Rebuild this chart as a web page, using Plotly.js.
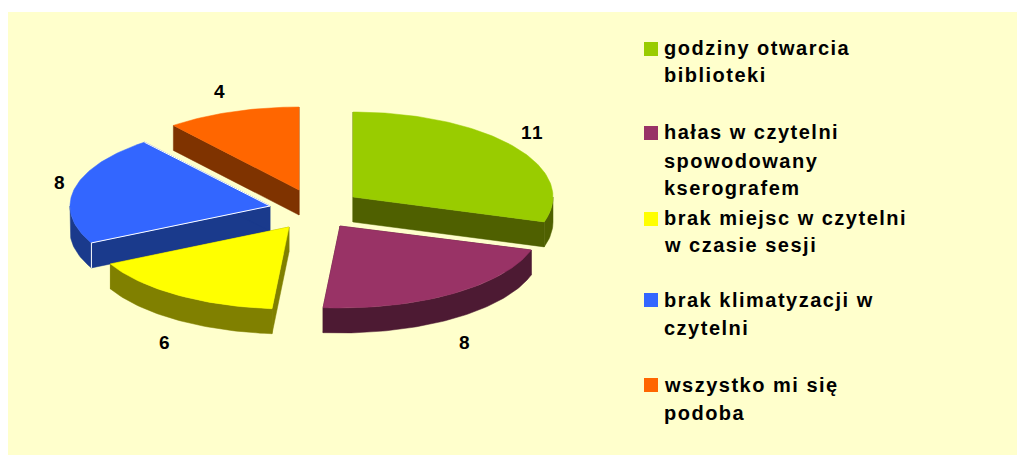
<!DOCTYPE html>
<html><head><meta charset="utf-8">
<script src="https://cdn.plot.ly/plotly-3.0.1.min.js"></script>
<style>html,body{margin:0;padding:0;background:#fff}#c{width:1017px;height:455px}
.annotation-text{letter-spacing:1.5px}</style>
</head><body><div id="c"></div>
<script>
const categories = ["godziny otwarcia<br>biblioteki","hałas w czytelni<br>spowodowany<br>kserografem","brak miejsc w czytelni<br>w czasie sesji","brak klimatyzacji w<br>czytelni","wszystko mi się<br>podoba"];
const values = [11,8,6,8,4];
const topColors = ["#99cc00","#993366","#ffff00","#3366ff","#ff6600"];
const sideColors = ["#4f6000","#4d1a33","#808000","#1a3a8c","#7f3300"];
// exploded pie layout (pixels on the hidden axes)
const apexX = [353,340,289,270,299];
const apexY = [197,226,227,206,190];
const radiusX = 200, radiusY = [85,82,82,82,83], depth = 25;
const labelX = [532,465,165,60,220];
const labelY = [132,342,342,182,91];
const legendX = 663, swatchX = 651;
const legendY = [[48,75],[132,161,188],[218,245],[300,328],[385,413]];
const swatchY = [49,133,219,300,385];
const drawOrder = [4,3,0,2,1];

const total = values.reduce((a,b)=>a+b,0);
let cum = 0;
const slices = values.map((v,i)=>{const s=cum/total*2*Math.PI; cum+=v; return {i,v,s,e:cum/total*2*Math.PI};});
function arc(i,s,e,dy){
  const n = Math.max(8,Math.round((e-s)*50)), xs=[], ys=[];
  for(let k=0;k<=n;k++){const t=s+(e-s)*k/n;
    xs.push(apexX[i]+radiusX*Math.sin(t)); ys.push(apexY[i]-radiusY[i]*Math.cos(t)+dy);}
  return [xs,ys];
}
const traces=[];
function side(i,x,y){traces.push({type:"scatter",mode:"lines",x,y,fill:"toself",fillcolor:sideColors[i],
  line:{color:sideColors[i],width:0.5},hoverinfo:"skip",showlegend:false});}
drawOrder.forEach(i=>{
  const sl=slices[i], [ax,ay]=arc(i,sl.s,sl.e,0), [bx,by]=arc(i,sl.s,sl.e,depth), X=apexX[i], Y=apexY[i], L=ax.length-1;
  // the two cut faces
  side(i,[X,ax[0],bx[0],X,X],[Y,ay[0],by[0],Y+depth,Y]);
  side(i,[X,ax[L],bx[L],X,X],[Y,ay[L],by[L],Y+depth,Y]);
  // outer rim: only the front half of the ellipse is ever visible
  const rs=Math.max(sl.s,Math.PI/2), re=Math.min(sl.e,3*Math.PI/2);
  if(re>rs){
    const [rax,ray]=arc(i,rs,re,0), [rbx,rby]=arc(i,rs,re,depth);
    side(i,[...rax,...rbx.reverse(),rax[0]],[...ray,...rby.reverse(),ray[0]]);
  }
  traces.push({type:"scatter",mode:"lines",x:[X,...ax,X],y:[Y,...ay,Y],fill:"toself",fillcolor:topColors[i],
    line:{color:topColors[i],width:0.5},name:categories[i].replace(/<br>/g," "),text:String(values[i]),hoverinfo:"name+text",showlegend:false});
  if(i===3){ // white highlight on the blue slice's cut edges
    traces.push({type:"scatter",mode:"lines",x:[ax[L],X,ax[0],bx[0]],y:[ay[L],Y,ay[0],by[0]],
      line:{color:"#ffffff",width:1},hoverinfo:"skip",showlegend:false});
  }
});
traces.push({type:"scatter",mode:"markers",x:swatchY.map(()=>swatchX),y:swatchY,
  marker:{symbol:"square",size:14,color:topColors,line:{width:0}},hoverinfo:"skip",showlegend:false});

const annotations=[];
const font=(s)=>({family:"Liberation Sans, Arial, sans-serif",size:s,color:"#000000"});
values.forEach((v,i)=>annotations.push({x:labelX[i],y:labelY[i],xref:"x",yref:"y",text:"<b>"+v+"</b>",showarrow:false,font:font(19),xanchor:"center",yanchor:"middle"}));
categories.forEach((c,i)=>c.split("<br>").forEach((line,j)=>annotations.push({x:legendX,y:legendY[i][j],xref:"x",yref:"y",text:"<b>"+line+"</b>",showarrow:false,font:font(20),xanchor:"left",yanchor:"middle",xshift:-1})));

Plotly.newPlot("c",traces,{
  width:1017,height:455,margin:{l:0,r:0,t:0,b:0},paper_bgcolor:"#ffffff",plot_bgcolor:"#ffffff",
  xaxis:{range:[0,1017],visible:false,fixedrange:true},
  yaxis:{range:[455,0],visible:false,fixedrange:true},
  shapes:[{type:"rect",layer:"below",xref:"x",yref:"y",x0:8,x1:1017,y0:12,y1:456,fillcolor:"#ffffcc",line:{width:0}}],
  annotations,showlegend:false
},{displayModeBar:false,staticPlot:true});
</script></body></html>
